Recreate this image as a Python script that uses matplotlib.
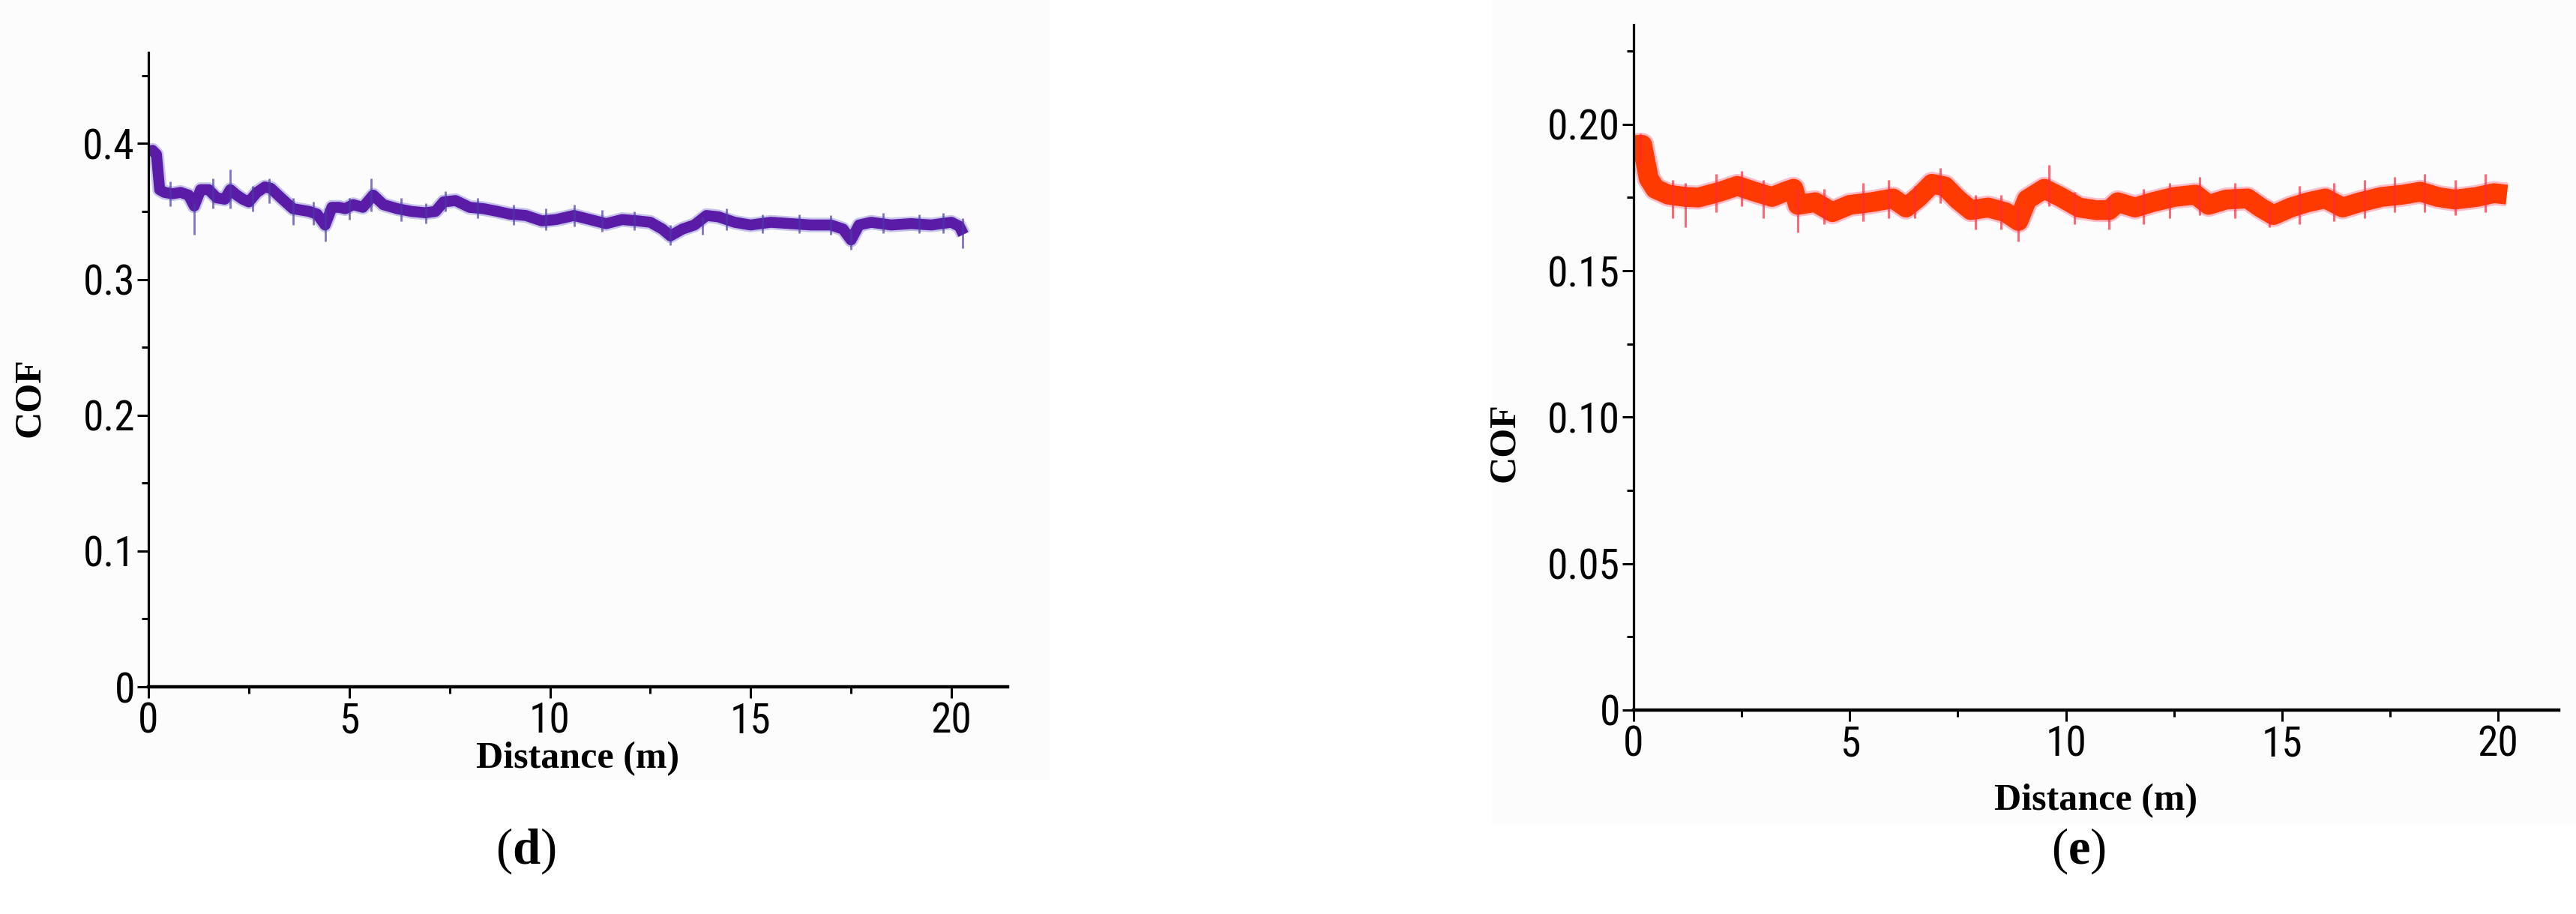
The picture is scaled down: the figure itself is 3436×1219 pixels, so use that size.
import matplotlib
matplotlib.use("Agg")
import matplotlib.pyplot as plt
from matplotlib import font_manager
from matplotlib.ticker import MultipleLocator, FixedLocator, FixedFormatter
from matplotlib.patches import Rectangle

# ---------------- data ----------------
dist_d = [0.0, 0.1, 0.2, 0.28, 0.4, 0.6, 0.8, 1.0, 1.14, 1.3, 1.5, 1.7, 1.9, 2.04,
          2.2, 2.35, 2.5, 2.7, 2.9, 3.05, 3.3, 3.6, 3.8, 4.0, 4.2, 4.4, 4.57, 4.75,
          4.9, 5.1, 5.34, 5.6, 5.85, 6.2, 6.55, 6.9, 7.15, 7.35, 7.65, 8.0, 8.35,
          8.7, 9.0, 9.4, 9.8, 10.15, 10.6, 11.0, 11.4, 11.8, 12.2, 12.5, 12.8,
          13.0, 13.3, 13.6, 13.9, 14.2, 14.6, 15.0, 15.5, 16.0, 16.5, 17.0, 17.3,
          17.5, 17.7, 18.0, 18.5, 19.0, 19.5, 20.0, 20.2, 20.3]
cof_d = [0.393, 0.395, 0.392, 0.366, 0.364, 0.363, 0.364, 0.362, 0.354, 0.366,
         0.366, 0.360, 0.359, 0.366, 0.362, 0.359, 0.357, 0.364, 0.368, 0.367,
         0.360, 0.352, 0.351, 0.350, 0.348, 0.340, 0.353, 0.353, 0.352, 0.355,
         0.353, 0.362, 0.355, 0.352, 0.350, 0.349, 0.350, 0.357, 0.358, 0.353,
         0.352, 0.350, 0.348, 0.347, 0.343, 0.344, 0.347, 0.344, 0.341, 0.344,
         0.343, 0.342, 0.337, 0.332, 0.337, 0.340, 0.347, 0.346, 0.342, 0.340,
         0.342, 0.341, 0.340, 0.340, 0.337, 0.329, 0.340, 0.342, 0.340, 0.341,
         0.340, 0.342, 0.339, 0.333]
spike_d_x = [0.55, 1.14, 1.6, 2.04, 2.6, 3.0, 3.6, 4.1, 4.4, 5.0, 5.55, 6.3, 6.9,
             7.4, 8.2, 9.1, 9.9, 10.6, 11.3, 12.1, 13.0, 13.8, 14.4, 15.3, 16.2,
             17.0, 17.5, 18.3, 19.2, 19.8, 20.28]
spike_d_lo = [0.354, 0.333, 0.352, 0.352, 0.350, 0.356, 0.340, 0.340, 0.328, 0.344,
              0.350, 0.343, 0.341, 0.350, 0.345, 0.340, 0.336, 0.339, 0.335, 0.336,
              0.325, 0.333, 0.336, 0.334, 0.334, 0.333, 0.322, 0.334, 0.334, 0.334,
              0.323]
spike_d_hi = [0.372, 0.356, 0.374, 0.381, 0.369, 0.374, 0.360, 0.357, 0.352, 0.360,
              0.374, 0.360, 0.356, 0.365, 0.360, 0.355, 0.352, 0.355, 0.351, 0.350,
              0.340, 0.346, 0.352, 0.348, 0.348, 0.347, 0.337, 0.349, 0.348, 0.349,
              0.345]

dist_e = [0.0, 0.1, 0.2, 0.35, 0.5, 0.8, 1.2, 1.5, 2.0, 2.4, 2.8, 3.2, 3.5, 3.7,
          3.8, 4.2, 4.6, 5.0, 5.5, 6.0, 6.3, 6.6, 6.9, 7.2, 7.5, 7.8, 8.2, 8.6,
          8.9, 9.1, 9.5, 9.9, 10.3, 10.7, 11.0, 11.2, 11.6, 12.0, 12.5, 13.0,
          13.3, 13.7, 14.2, 14.5, 14.8, 15.2, 15.6, 16.0, 16.4, 16.8, 17.3,
          17.8, 18.2, 18.6, 19.0, 19.5, 19.9, 20.2]
cof_e = [0.190, 0.193, 0.193, 0.1815, 0.178, 0.176, 0.1752, 0.175, 0.177, 0.179,
         0.177, 0.1752, 0.177, 0.178, 0.1725, 0.1734, 0.170, 0.1725, 0.1734,
         0.1747, 0.1716, 0.1752, 0.1797, 0.1788, 0.1743, 0.1707, 0.1716, 0.170,
         0.167, 0.1743, 0.178, 0.175, 0.1716, 0.1707, 0.1707, 0.1734, 0.1716,
         0.1734, 0.1752, 0.176, 0.1725, 0.1743, 0.1747, 0.1716, 0.169, 0.1716,
         0.1734, 0.1747, 0.1716, 0.1734, 0.1752, 0.176, 0.177, 0.1752, 0.1743,
         0.1752, 0.1765, 0.176]
spike_e_x = [0.15, 0.9, 1.2, 1.9, 2.5, 3.0, 3.8, 4.4, 5.3, 5.9, 6.5, 7.1, 7.9,
             8.5, 8.9, 9.6, 10.2, 11.0, 11.8, 12.4, 13.1, 13.9, 14.7, 15.4, 16.2,
             16.9, 17.6, 18.3, 19.0, 19.7]
spike_e_lo = [0.186, 0.168, 0.165, 0.170, 0.172, 0.168, 0.163, 0.166, 0.167, 0.168,
              0.168, 0.173, 0.164, 0.164, 0.160, 0.172, 0.166, 0.164, 0.166, 0.168,
              0.169, 0.168, 0.165, 0.166, 0.167, 0.168, 0.170, 0.170, 0.169, 0.170]
spike_e_hi = [0.1968, 0.181, 0.180, 0.183, 0.184, 0.181, 0.178, 0.178, 0.180, 0.181,
              0.179, 0.185, 0.176, 0.176, 0.172, 0.186, 0.177, 0.175, 0.178, 0.180,
              0.182, 0.180, 0.172, 0.179, 0.180, 0.181, 0.182, 0.183, 0.181, 0.183]

xticks = [0, 5, 10, 15, 20]
xticklabels = ["0", "5", "10", "15", "20"]
yticks_d = [0, 0.1, 0.2, 0.3, 0.4]
yticklabels_d = ["0", "0.1", "0.2", "0.3", "0.4"]
yticks_e = [0, 0.05, 0.10, 0.15, 0.20]
yticklabels_e = ["0", "0.05", "0.10", "0.15", "0.20"]

# ---------------- fonts ----------------
def pick(names):
    for n in names:
        try:
            font_manager.findfont(font_manager.FontProperties(family=n),
                                  fallback_to_default=False)
            return n
        except Exception:
            pass
    return "DejaVu Sans"

tick_font = pick(["Liberation Sans Narrow", "Roboto Condensed", "Liberation Sans"])
serif_font = pick(["Liberation Serif", "DejaVu Serif"])
plt.rcParams["mathtext.fontset"] = "custom"
plt.rcParams["mathtext.rm"] = serif_font
plt.rcParams["mathtext.bf"] = serif_font + ":bold"

fig = plt.figure(figsize=(34.37, 12.19), dpi=100)
fig.patch.set_facecolor("white")
# faint backgrounds of the pasted sub-figures
fig.patches.append(Rectangle((0, 1 - 1040 / 1219), 1400 / 3437, 1040 / 1219,
                             transform=fig.transFigure, facecolor="#fcfcfc",
                             edgecolor="none", zorder=-10))
fig.patches.append(Rectangle((1990 / 3437, 1 - 1100 / 1219), 1 - 1990 / 3437,
                             1100 / 1219, transform=fig.transFigure,
                             facecolor="#fcfcfc", edgecolor="none", zorder=-10))

ax_d = fig.add_axes([198 / 3437, 1 - 916 / 1219, (1344 - 198) / 3437, (916 - 70) / 1219])
ax_e = fig.add_axes([2179 / 3437, 1 - 947 / 1219, (3413 - 2179) / 3437, (947 - 33) / 1219])


def style(ax, ymax, yticks, ylabels, yminor):
    ax.set_facecolor("none")
    ax.set_xlim(0, 21.4)
    ax.set_ylim(0, ymax)
    for s in ("top", "right"):
        ax.spines[s].set_visible(False)
    ax.spines["left"].set_linewidth(2.3)
    ax.spines["bottom"].set_linewidth(3.2)
    ax.xaxis.set_major_locator(FixedLocator(xticks))
    ax.xaxis.set_major_formatter(FixedFormatter(xticklabels))
    ax.xaxis.set_minor_locator(MultipleLocator(2.5))
    ax.yaxis.set_major_locator(FixedLocator(yticks))
    ax.yaxis.set_major_formatter(FixedFormatter(ylabels))
    ax.yaxis.set_minor_locator(MultipleLocator(yminor))
    ax.tick_params(which="major", length=11, width=2.2, direction="out")
    ax.tick_params(which="minor", length=6.5, width=2.2, direction="out")
    ax.tick_params(axis="x", which="major", pad=3)
    ax.tick_params(axis="y", which="major", pad=2)
    for lab in ax.get_xticklabels() + ax.get_yticklabels():
        lab.set_fontfamily(tick_font)
        lab.set_fontsize(40)


style(ax_d, 0.467, yticks_d, yticklabels_d, 0.05)
style(ax_e, 0.234, yticks_e, yticklabels_e, 0.025)

# left series (purple)
ax_d.plot(dist_d, cof_d, color="#4a45c0", lw=14, alpha=0.3,
          solid_joinstyle="round", solid_capstyle="butt")
ax_d.plot(dist_d, cof_d, color="#5a1ca6", lw=10.5, solid_joinstyle="round",
          solid_capstyle="butt")
ax_d.vlines(spike_d_x, spike_d_lo, spike_d_hi, color="#4b3aa8", lw=2.0, alpha=0.7)

# right series (red)
ax_e.plot(dist_e, cof_e, color="#ff2850", lw=23, alpha=0.3,
          solid_joinstyle="round", solid_capstyle="butt")
ax_e.plot(dist_e, cof_e, color="#ff3a00", lw=19, solid_joinstyle="round",
          solid_capstyle="butt")
ax_e.vlines(spike_e_x, spike_e_lo, spike_e_hi, color="#ff2a3a", lw=2.2, alpha=0.7)

label_kw = dict(fontfamily=serif_font, fontweight="bold", fontsize=36)
fig.text(40 / 3437, 1 - 530 / 1219, "COF", rotation=90, ha="center", va="center", **label_kw)
fig.text(2007 / 3437, 1 - 590 / 1219, "COF", rotation=90, ha="center", va="center", **label_kw)
fig.text(771 / 3437, 1 - 1012 / 1219, "Distance (m)", ha="center", va="center", **label_kw)
fig.text(2796 / 3437, 1 - 1068 / 1219, "Distance (m)", ha="center", va="center", **label_kw)

fig.text(701 / 3437, 1 - 1135 / 1219, r"($\mathbf{d}$)", ha="center", va="center",
         fontfamily=serif_font, fontsize=48)
fig.text(2773 / 3437, 1 - 1135 / 1219, r"($\mathbf{e}$)", ha="center", va="center",
         fontfamily=serif_font, fontsize=48)

fig.savefig("out.png", dpi=100, facecolor="white")
print(tick_font, serif_font)
